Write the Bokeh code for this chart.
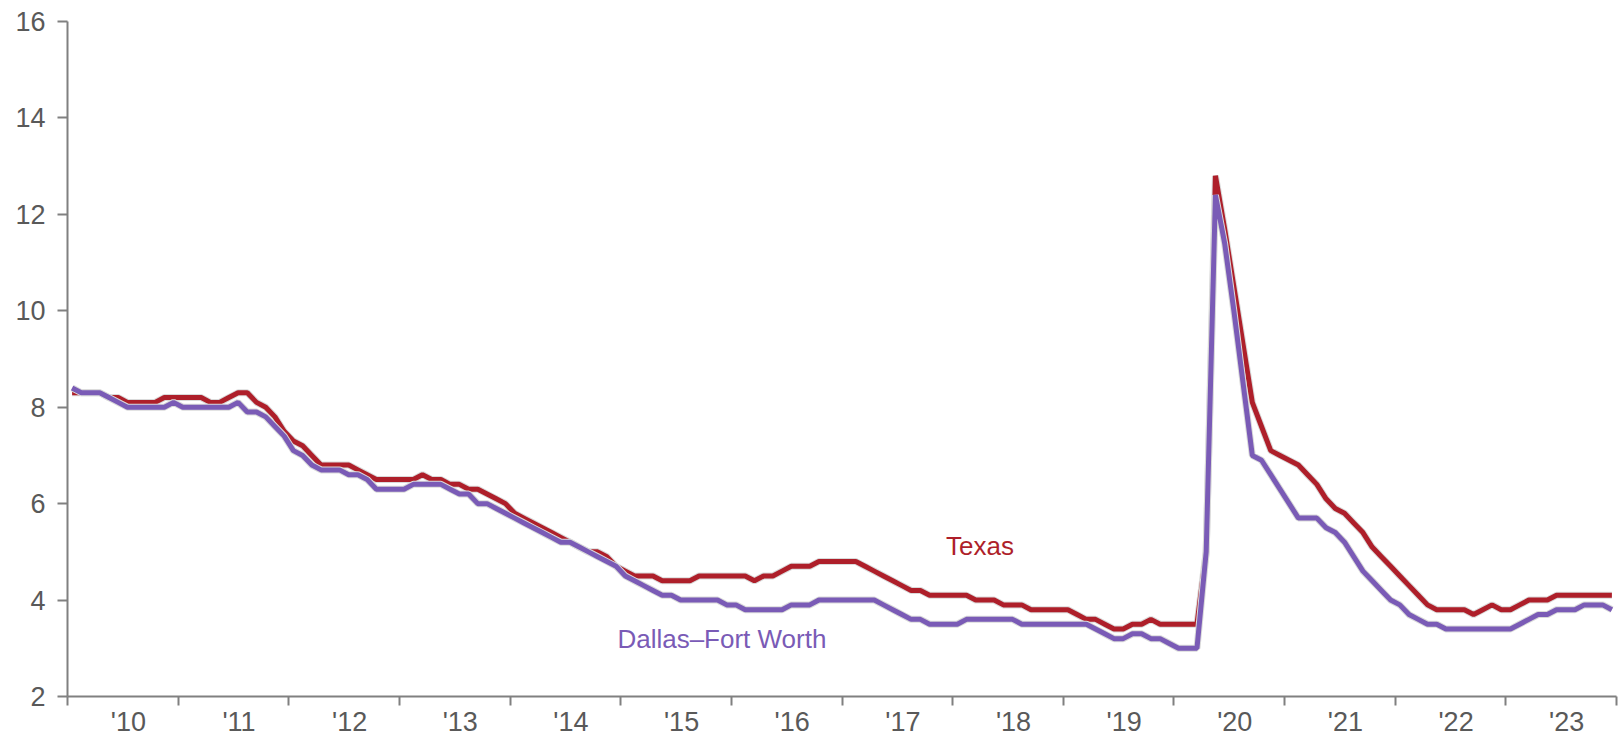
from bokeh.plotting import figure
from bokeh.models import FixedTicker, Label, Range1d
from bokeh.embed import file_html
from bokeh.resources import INLINE

# ---- data (monthly unemployment rate, %, Jan 2010 - Dec 2023) ----
year_labels = ["'10", "'11", "'12", "'13", "'14", "'15", "'16",
               "'17", "'18", "'19", "'20", "'21", "'22", "'23"]
years = list(range(2010, 2024))
y_ticks = [2, 4, 6, 8, 10, 12, 14, 16]

texas = [
    8.3, 8.3, 8.3, 8.3, 8.2, 8.2, 8.1, 8.1, 8.1, 8.1, 8.2, 8.2,   # 2010
    8.2, 8.2, 8.2, 8.1, 8.1, 8.2, 8.3, 8.3, 8.1, 8.0, 7.8, 7.5,   # 2011
    7.3, 7.2, 7.0, 6.8, 6.8, 6.8, 6.8, 6.7, 6.6, 6.5, 6.5, 6.5,   # 2012
    6.5, 6.5, 6.6, 6.5, 6.5, 6.4, 6.4, 6.3, 6.3, 6.2, 6.1, 6.0,   # 2013
    5.8, 5.7, 5.6, 5.5, 5.4, 5.3, 5.2, 5.1, 5.0, 5.0, 4.9, 4.7,   # 2014
    4.6, 4.5, 4.5, 4.5, 4.4, 4.4, 4.4, 4.4, 4.5, 4.5, 4.5, 4.5,   # 2015
    4.5, 4.5, 4.4, 4.5, 4.5, 4.6, 4.7, 4.7, 4.7, 4.8, 4.8, 4.8,   # 2016
    4.8, 4.8, 4.7, 4.6, 4.5, 4.4, 4.3, 4.2, 4.2, 4.1, 4.1, 4.1,   # 2017
    4.1, 4.1, 4.0, 4.0, 4.0, 3.9, 3.9, 3.9, 3.8, 3.8, 3.8, 3.8,   # 2018
    3.8, 3.7, 3.6, 3.6, 3.5, 3.4, 3.4, 3.5, 3.5, 3.6, 3.5, 3.5,   # 2019
    3.5, 3.5, 3.5, 5.0, 12.8, 11.7, 10.5, 9.3, 8.1, 7.6, 7.1, 7.0,  # 2020
    6.9, 6.8, 6.6, 6.4, 6.1, 5.9, 5.8, 5.6, 5.4, 5.1, 4.9, 4.7,   # 2021
    4.5, 4.3, 4.1, 3.9, 3.8, 3.8, 3.8, 3.8, 3.7, 3.8, 3.9, 3.8,   # 2022
    3.8, 3.9, 4.0, 4.0, 4.0, 4.1, 4.1, 4.1, 4.1, 4.1, 4.1, 4.1,   # 2023
]

dfw = [
    8.4, 8.3, 8.3, 8.3, 8.2, 8.1, 8.0, 8.0, 8.0, 8.0, 8.0, 8.1,   # 2010
    8.0, 8.0, 8.0, 8.0, 8.0, 8.0, 8.1, 7.9, 7.9, 7.8, 7.6, 7.4,   # 2011
    7.1, 7.0, 6.8, 6.7, 6.7, 6.7, 6.6, 6.6, 6.5, 6.3, 6.3, 6.3,   # 2012
    6.3, 6.4, 6.4, 6.4, 6.4, 6.3, 6.2, 6.2, 6.0, 6.0, 5.9, 5.8,   # 2013
    5.7, 5.6, 5.5, 5.4, 5.3, 5.2, 5.2, 5.1, 5.0, 4.9, 4.8, 4.7,   # 2014
    4.5, 4.4, 4.3, 4.2, 4.1, 4.1, 4.0, 4.0, 4.0, 4.0, 4.0, 3.9,   # 2015
    3.9, 3.8, 3.8, 3.8, 3.8, 3.8, 3.9, 3.9, 3.9, 4.0, 4.0, 4.0,   # 2016
    4.0, 4.0, 4.0, 4.0, 3.9, 3.8, 3.7, 3.6, 3.6, 3.5, 3.5, 3.5,   # 2017
    3.5, 3.6, 3.6, 3.6, 3.6, 3.6, 3.6, 3.5, 3.5, 3.5, 3.5, 3.5,   # 2018
    3.5, 3.5, 3.5, 3.4, 3.3, 3.2, 3.2, 3.3, 3.3, 3.2, 3.2, 3.1,   # 2019
    3.0, 3.0, 3.0, 5.0, 12.4, 11.4, 10.0, 8.5, 7.0, 6.9, 6.6, 6.3,  # 2020
    6.0, 5.7, 5.7, 5.7, 5.5, 5.4, 5.2, 4.9, 4.6, 4.4, 4.2, 4.0,   # 2021
    3.9, 3.7, 3.6, 3.5, 3.5, 3.4, 3.4, 3.4, 3.4, 3.4, 3.4, 3.4,   # 2022
    3.4, 3.5, 3.6, 3.7, 3.7, 3.8, 3.8, 3.8, 3.9, 3.9, 3.9, 3.8,   # 2023
]

# month positions in fractional years (mid-month)
x = [years[0] + (i + 0.5) / 12.0 for i in range(len(texas))]

RED = "#AE1F2A"
PURPLE = "#7A5BB6"
AXIS = "#808080"
TICKTXT = "#595959"
FONT = "Liberation Sans"

p = figure(width=1618, height=739,
           x_range=Range1d(years[0], years[-1] + 1),
           y_range=Range1d(y_ticks[0], y_ticks[-1]),
           output_backend="svg", toolbar_location=None,
           min_border_left=67, min_border_right=2,
           min_border_top=21, min_border_bottom=0)

p.outline_line_color = None
p.xgrid.visible = False
p.ygrid.visible = False
p.background_fill_color = "white"

# x axis: labels near mid-year, tick marks at year boundaries (minor ticks)
mid = [yr + 0.55 for yr in years]
p.xaxis.ticker = FixedTicker(ticks=mid, minor_ticks=list(range(years[0], years[-1] + 2)))
p.xaxis.major_label_overrides = {m: lab for m, lab in zip(mid, year_labels)}
p.xaxis.major_tick_line_color = None
p.xaxis.major_tick_out = 0
p.xaxis.major_tick_in = 0
p.xaxis.minor_tick_out = 9
p.xaxis.minor_tick_in = 0
p.xaxis.minor_tick_line_color = AXIS
p.xaxis.minor_tick_line_width = 2
p.xaxis.major_label_standoff = 1

p.yaxis.ticker = FixedTicker(ticks=y_ticks)
p.yaxis.major_tick_out = 10
p.yaxis.major_tick_in = 0
p.yaxis.minor_tick_line_color = None
p.yaxis.major_tick_line_color = AXIS
p.yaxis.major_tick_line_width = 2
p.yaxis.major_label_standoff = 12

for ax in (p.xaxis, p.yaxis):
    ax.axis_line_color = AXIS
    ax.axis_line_width = 2
    ax.major_label_text_font = FONT
    ax.major_label_text_font_size = "27px"
    ax.major_label_text_color = TICKTXT

# halos + lines
p.line(x, texas, line_color="#dadada", line_width=7)
p.line(x, texas, line_color=RED, line_width=5)
p.line(x, dfw, line_color="#dadada", line_width=7)
p.line(x, dfw, line_color=PURPLE, line_width=5)

p.add_layout(Label(x=2017.94, y=5.13, text="Texas", text_color=RED,
                   text_font=FONT, text_font_size="26px",
                   text_baseline="middle", text_align="left"))
p.add_layout(Label(x=2014.97, y=3.2, text="Dallas\u2013Fort Worth", text_color=PURPLE,
                   text_font=FONT, text_font_size="26px",
                   text_baseline="middle", text_align="left"))

open("out.html", "w").write(file_html(p, INLINE))
